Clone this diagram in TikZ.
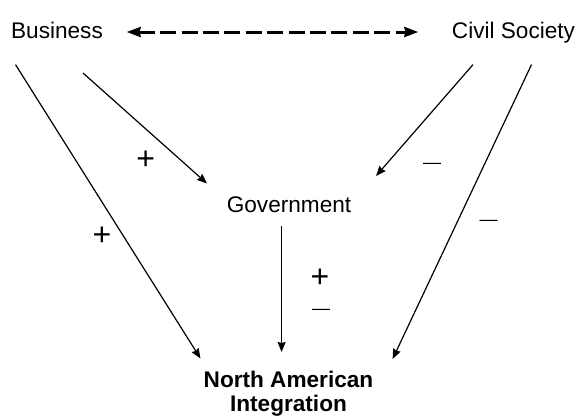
\documentclass[tikz,border=0pt]{standalone}
\usepackage{fontspec}
\setmainfont{Liberation Sans}
\usetikzlibrary{arrows.meta}

\begin{document}
\begin{tikzpicture}[x=0.5pt, y=-0.5pt,
    actor/.style={font=\fontsize{11.3}{13}\selectfont, inner sep=0pt, anchor=base},
    goal/.style={font=\fontsize{11.3}{12.3}\selectfont\bfseries, align=center, inner sep=0pt, anchor=north},
    plus/.style={font=\fontsize{16}{16}\selectfont, inner sep=0pt},
    minus/.style={font=\fontsize{9}{9}\selectfont, inner sep=0pt},
    link/.style={-{Stealth[length=5pt, width=4pt, inset=0.5pt]}, line width=0.6pt},
    mutual/.style={{Stealth[length=7pt, width=5pt, inset=0.6pt]}-{Stealth[length=7pt, width=5pt, inset=0.6pt]},
        line width=1.5pt, dash pattern=on 8pt off 2.7pt}
]
    \useasboundingbox (0,0) rectangle (577,419);

    \node[actor] (biz) at (57,38.8) {Business};
    \node[actor] (civ) at (513.5,38.8) {Civil Society};
    \node[actor] (gov) at (289,212) {Government};
    \node[goal] (nai) at (288.5,370.5) {North American\\Integration};

    % connector ends
    \coordinate (bizL) at (15.5,64.6);
    \coordinate (bizR) at (83,73);
    \coordinate (civL) at (473,64.6);
    \coordinate (civR) at (531.5,64.6);
    \coordinate (govT) at (281.6,226);
    \coordinate (govIn) at (207,183.5);
    \coordinate (govInR) at (376,176);
    \coordinate (naiL) at (200.5,358.5);
    \coordinate (naiM) at (281.6,352);
    \coordinate (naiR) at (392.6,359);
    \coordinate (mutL) at (126.7,32);
    \coordinate (mutR) at (418.3,32);

    \draw[mutual] (mutL) -- (mutR);
    \draw[link] (bizL) -- (naiL);
    \draw[link] (bizR) -- (govIn);
    \draw[link] (civL) -- (govInR);
    \draw[link] (civR) -- (naiR);
    \draw[link] (govT) -- (naiM);

    % signs
    \node[plus] (pBG) at (145.8,160) {+};
    \node[plus] (pBN) at (102,236) {+};
    \node[plus] (pGN) at (320,278.7) {+};
    \node[minus] (mCG) at (432,166) {\textemdash};
    \node[minus] (mCN) at (488.7,222.7) {\textemdash};
    \node[minus] (mGN) at (321,311.7) {\textemdash};
\end{tikzpicture}
\end{document}
